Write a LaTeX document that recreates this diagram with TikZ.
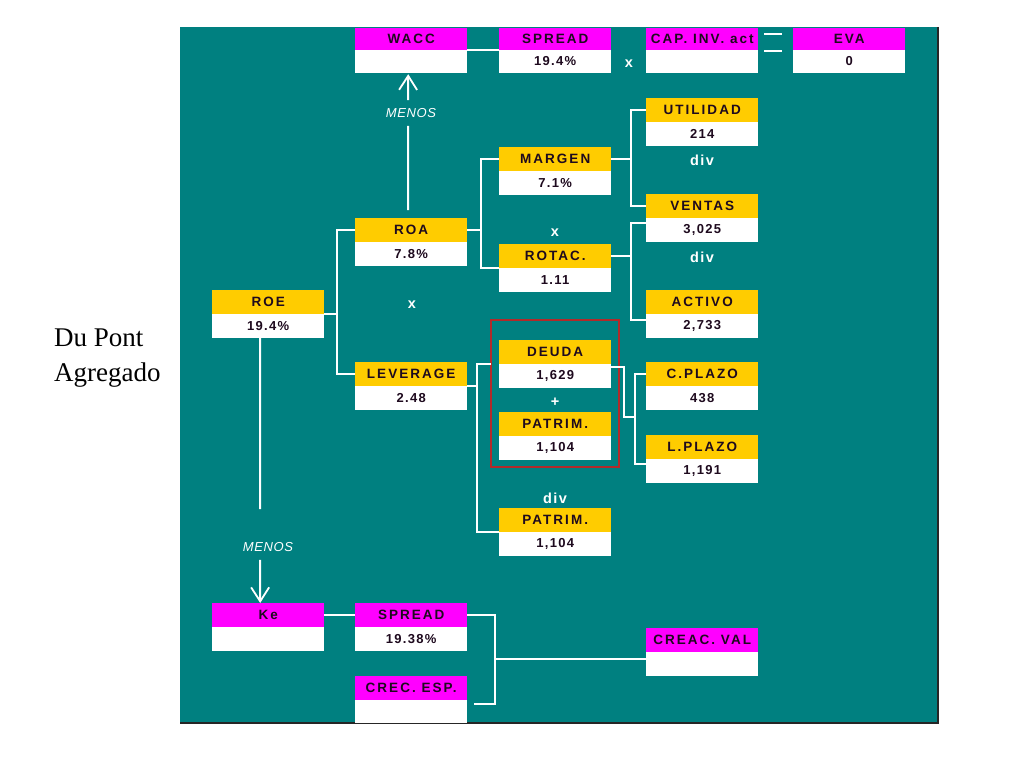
\documentclass[tikz,border=0pt]{standalone}
\usepackage{fontspec}
\setmainfont{Liberation Serif}
\newfontfamily\boxfont[LetterSpace=15]{Liberation Sans}
\newfontfamily\numfont[LetterSpace=10]{Liberation Sans}
\newfontfamily\menosfont[LetterSpace=5]{Liberation Sans}
\usetikzlibrary{positioning,arrows.meta}
\definecolor{panel}{RGB}{0,128,128}
\definecolor{gold}{RGB}{255,204,0}
\definecolor{pink}{RGB}{255,0,255}
\definecolor{frame}{RGB}{178,42,42}
\definecolor{ink}{RGB}{30,10,30}

\begin{document}
\begin{tikzpicture}[x=1pt,y=-1pt,
    hdr/.style={fill=gold, text=ink, minimum width=112pt, minimum height=24pt,
      inner sep=0pt, anchor=north west, font=\boxfont\bfseries\fontsize{13.5}{15}\selectfont},
    hdrm/.style={hdr, fill=pink},
    val/.style={fill=white, text=ink, minimum width=112pt, minimum height=24pt,
      inner sep=0pt, below=-0.6pt of #1, font=\numfont\bfseries\fontsize{13}{15}\selectfont},
    op/.style={text=white, font=\numfont\bfseries\fontsize{14.5}{16}\selectfont},
    menos/.style={text=white, inner sep=8pt, font=\menosfont\itshape\fontsize{13}{15}\selectfont},
    conn/.style={draw=white, line width=2pt},
    arr/.style={conn, -{Straight Barb[length=14pt,width=18pt,line width=1.8pt]}}]
  \fill[white] (0,0) rectangle (1024,768);
  \useasboundingbox (0,0) rectangle (1024,768);

  % panel
  \fill[panel] (180,27) rectangle (938,723);
  \draw[black!85, line width=1.2pt] (938,27) -- (938,723) -- (180,723);

  \node[anchor=west, align=left, inner sep=0pt, font=\fontsize{27}{35}\selectfont] (title) at (54,358) {Du Pont\\Agregado};

  % top row
  \node[hdrm, minimum height=22pt] (wacc) at (355,28) {WACC};
  \node[val=wacc, minimum height=23pt] (waccv) {};
  \node[hdrm, minimum height=22pt] (spreadt) at (499,28) {SPREAD};
  \node[val=spreadt, minimum height=23pt] (spreadtv) {19.4\%};
  \node[hdrm, minimum height=22pt] (capinv) at (646,28) {CAP. INV. act};
  \node[val=capinv, minimum height=23pt] (capinvv) {};
  \node[hdrm, minimum height=22pt] (eva) at (793,28) {EVA};
  \node[val=eva, minimum height=23pt] (evav) {0};
  \node[op] (x1) at (629,64) {x};
  \draw[conn] (764,34) -- (782,34);
  \draw[conn] (764,51) -- (782,51);

  % right column
  \node[hdr] (utilidad) at (646,98) {UTILIDAD};
  \node[val=utilidad] (utilidadv) {214};
  \node[op] (div1) at (702,160) {div};
  \node[hdr] (ventas) at (646,194) {VENTAS};
  \node[val=ventas] (ventasv) {3,025};
  \node[op] (div2) at (702,257) {div};
  \node[hdr] (activo) at (646,290) {ACTIVO};
  \node[val=activo] (activov) {2,733};
  \node[hdr] (cplazo) at (646,362) {C.PLAZO};
  \node[val=cplazo] (cplazov) {438};
  \node[hdr] (lplazo) at (646,435) {L.PLAZO};
  \node[val=lplazo] (lplazov) {1,191};

  % middle column
  \node[hdr] (margen) at (499,147) {MARGEN};
  \node[val=margen] (margenv) {7.1\%};
  \node[op] (x2) at (555,233) {x};
  \node[hdr] (rotac) at (499,244) {ROTAC.};
  \node[val=rotac] (rotacv) {1.11};
  \node[hdr] (deuda) at (499,340) {DEUDA};
  \node[val=deuda] (deudav) {1,629};
  \node[op] (plus) at (555,402) {+};
  \node[hdr] (patrim) at (499,412) {PATRIM.};
  \node[val=patrim] (patrimv) {1,104};
  \node[op] (div3) at (555,498) {div};
  \node[hdr] (patrimb) at (499,508) {PATRIM.};
  \node[val=patrimb] (patrimbv) {1,104};
  \draw[frame, line width=1.5pt] (491,320) rectangle (619,467);

  % left columns
  \node[hdr] (roa) at (355,218) {ROA};
  \node[val=roa] (roav) {7.8\%};
  \node[op] (x3) at (412,305) {x};
  \node[hdr] (leverage) at (355,362) {LEVERAGE};
  \node[val=leverage] (leveragev) {2.48};
  \node[hdr] (roe) at (212,290) {ROE};
  \node[val=roe] (roev) {19.4\%};

  % bottom
  \node[hdrm] (ke) at (212,603) {Ke};
  \node[val=ke] (kev) {};
  \node[hdrm] (spreadb) at (355,603) {SPREAD};
  \node[val=spreadb] (spreadbv) {19.38\%};
  \node[hdrm] (crecesp) at (355,676) {CREC. ESP.};
  \node[val=crecesp, minimum height=23pt] (crecespv) {};
  \node[hdrm] (creacval) at (646,628) {CREAC. VAL};
  \node[val=creacval] (creacvalv) {};

  \node[menos] (menosa) at (411,113) {MENOS};
  \node[menos] (menosb) at (268,547) {MENOS};

  % connectors
  \draw[conn] (wacc.south east) -- (spreadt.south west);
  \draw[conn] ([xshift=-3pt,yshift=8pt]roa.north) -- ([xshift=-3pt]menosa.south);
  \draw[arr] ([xshift=-3pt]menosa.north) -- ([xshift=-3pt,yshift=-1pt]waccv.south);

  \draw[conn] (roe.south east) -- ++(14,0);
  \draw[conn] (roa.west) -- ++(-18,0) |- (leverage.west);

  \draw[conn] (roa.east) -- ++(14,0);
  \draw[conn] (margen.west) -- ++(-18,0) |- (rotac.south west);

  \draw[conn] (margen.east) -- ++(20,0);
  \draw[conn] (utilidad.west) -- ++(-15,0) |- (ventas.west);

  \draw[conn] (rotac.east) -- ++(20,0);
  \draw[conn] ([yshift=-5pt]ventas.south west) -- ++(-15,0) |- ([yshift=-6pt]activo.south west);

  \draw[conn] (leverage.south east) -- ++(10,0);
  \draw[conn] ([xshift=-8pt]deuda.south west) -- ++(-14,0) |- (patrimb.south west);

  \draw[conn] ([yshift=-3pt]deudav.north east) -- ++(13,0) -- ++(0,50) -- ++(11,0);
  \draw[conn] (cplazo.west) -- ++(-11,0) |- ([yshift=-5pt]lplazo.south west);

  \draw[conn] ([xshift=-8pt]roev.south) -- ([xshift=-8pt,yshift=25pt]menosb.north);
  \draw[arr] ([xshift=-8pt]menosb.south) -- ([xshift=-8pt]ke.north);

  \draw[conn] (ke.east) -- (spreadb.west);
  \draw[conn] (spreadb.east) -- ++(28,0) coordinate (jsp) -- ([yshift=-4pt]jsp |- crecespv.north) -- ++(-21,0);
  \draw[conn] ([yshift=5pt]jsp |- creacvalv.west) -- ([yshift=5pt]creacvalv.west);
\end{tikzpicture}
\end{document}
